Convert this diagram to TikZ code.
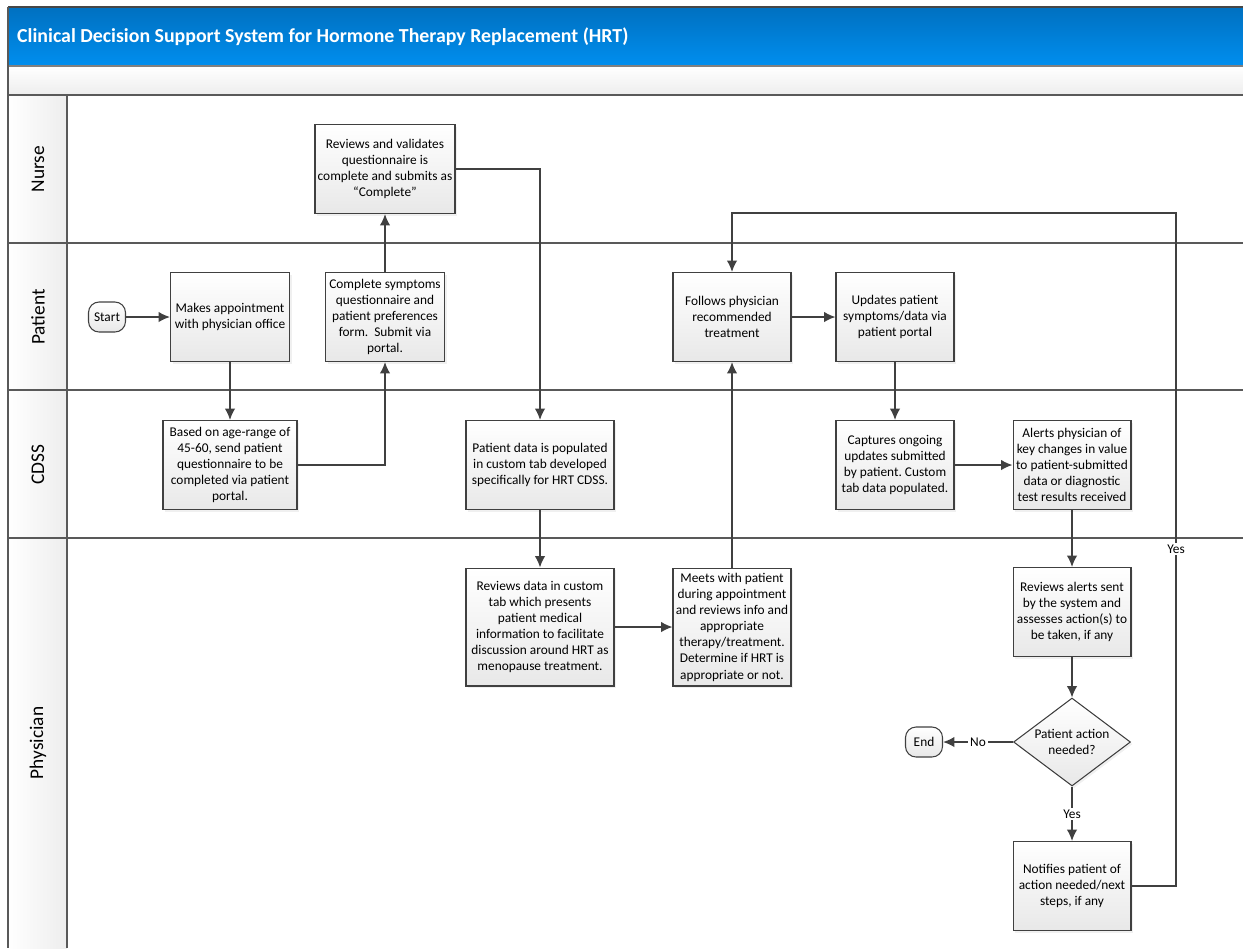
\documentclass[tikz,border=0pt]{standalone}
\usepackage{fontspec}
\setmainfont{Carlito}
\usetikzlibrary{shapes.geometric,shadows,arrows.meta}
\tikzset{>={Latex[length=6.5pt,width=6pt]}}
\frenchspacing

\definecolor{lineGray}{HTML}{404040}
\definecolor{laneGray}{HTML}{595959}
\definecolor{titleTop}{HTML}{0070C0}
\definecolor{titleBot}{HTML}{008EEE}

\tikzset{
    procbox/.style={draw=lineGray, line width=0.6pt, top color=white, bottom color=black!9,
        align=center, inner sep=1pt, minimum height=1.78cm, minimum width=2.36cm,
        font=\fontsize{7.6}{9.2}\selectfont,
        drop shadow={opacity=0.12, shadow xshift=1.2pt, shadow yshift=-1.2pt}},
    termbox/.style={draw=lineGray, line width=0.6pt, rounded corners=6pt, top color=white, bottom color=black!9,
        minimum width=0.74cm, minimum height=0.6cm, inner sep=1pt, font=\fontsize{7.6}{9.2}\selectfont},
    decbox/.style={diamond, draw=lineGray, line width=0.6pt, top color=white, bottom color=black!9,
        minimum width=2.34cm, minimum height=1.76cm, aspect=1.33, inner sep=0pt, align=center,
        font=\fontsize{7.6}{9.2}\selectfont,
        drop shadow={opacity=0.12, shadow xshift=1.2pt, shadow yshift=-1.2pt}},
    flow/.style={->, draw=lineGray, line width=0.9pt},
    lbl/.style={fill=white, inner sep=1pt, font=\fontsize{7.6}{9.2}\selectfont},
    lanename/.style={rotate=90, font=\fontsize{11}{13}\selectfont}
}

\begin{document}
\begin{tikzpicture}[x=0.02cm, y=-0.02cm]
    \useasboundingbox (0,0) rectangle (1243,948);

    % title bar and header band
    \shade[top color=titleTop, bottom color=titleBot] (8,7) rectangle (1243,65);
    \draw[laneGray!80!black, line width=0.8pt] (8,7) -- (1243,7);
    \node[anchor=west, text=white, font=\fontsize{11.3}{13}\selectfont\bfseries] (title) at (11,37)
        {Clinical Decision Support System for Hormone Therapy Replacement (HRT)};
    \shade[top color=white, bottom color=black!7] (8,66) rectangle (1243,95);
    \draw[gray, line width=0.8pt] (8,66) -- (1243,66);

    % lanes
    \shade[left color=white, right color=black!7] (8,95) rectangle (67,948);
    \foreach \y in {95,243,390,538}
        \draw[laneGray, line width=0.8pt] (8,\y) -- (1243,\y);
    \draw[laneGray, line width=0.8pt] (8,7) -- (8,948);
    \draw[laneGray, line width=0.8pt] (67,95) -- (67,948);

    \node[lanename] (laneNurse) at (38,169) {Nurse};
    \node[lanename] (lanePatient) at (38,317) {Patient};
    \node[lanename] (laneCdss) at (38,465) {CDSS};
    \node[lanename] (lanePhys) at (38,743) {Physician};

    % steps
    \node[termbox] (start) at (107,317) {Start};
    \node[procbox, minimum width=2.38cm] (appt) at (230,317)
        {Makes appointment\\with physician office};
    \node[procbox, minimum width=2.68cm] (sendq) at (230,465)
        {Based on age-range of\\45-60, send patient\\questionnaire to be\\completed via patient\\portal.};
    \node[procbox, minimum width=2.38cm] (fillq) at (385,317)
        {Complete symptoms\\questionnaire and\\patient preferences\\form.\ \ Submit via\\portal.};
    \node[procbox, minimum width=2.8cm] (check) at (385,169)
        {Reviews and validates\\questionnaire is\\complete and submits as\\``Complete''};
    \node[procbox, minimum width=2.96cm] (popul) at (540,465)
        {Patient data is populated\\in custom tab developed\\specifically for HRT CDSS.};
    \node[procbox, minimum width=2.96cm, minimum height=2.36cm] (review) at (540,627)
        {Reviews data in custom\\tab which presents\\patient medical\\information to facilitate\\discussion around HRT as\\menopause treatment.};
    \node[procbox, minimum height=2.36cm] (meet) at (732,627)
        {Meets with patient\\during appointment\\and reviews info and\\appropriate\\therapy/treatment.\\Determine if HRT is\\appropriate or not.};
    \node[procbox] (follow) at (732,317)
        {Follows physician\\recommended\\treatment};
    \node[procbox] (update) at (895,317)
        {Updates patient\\symptoms/data via\\patient portal};
    \node[procbox] (capture) at (895,465)
        {Captures ongoing\\updates submitted\\by patient. Custom\\tab data populated.};
    \node[procbox] (alert) at (1072,465)
        {Alerts physician of\\key changes in value\\to patient-submitted\\data or diagnostic\\test results received};
    \node[procbox] (assess) at (1072,612)
        {Reviews alerts sent\\by the system and\\assesses action(s) to\\be taken, if any};
    \node[decbox] (needed) at (1072,742) {Patient action\\needed?};
    \node[termbox] (end) at (924,742) {End};
    \node[procbox] (notify) at (1072,886)
        {Notifies patient of\\action needed/next\\steps, if any};

    \coordinate (loopTop) at (1176,213);

    % connectors
    \draw[flow] (start) -- (appt);
    \draw[flow] (appt) -- (sendq);
    \draw[flow] (sendq.east) -| (fillq.south);
    \draw[flow] (fillq) -- (check);
    \draw[flow] (check.east) -| (popul.north);
    \draw[flow] (popul) -- (review);
    \draw[flow] (review) -- (meet);
    \draw[flow] (meet) -- (follow);
    \draw[flow] (follow) -- (update);
    \draw[flow] (update) -- (capture);
    \draw[flow] (capture) -- (alert);
    \draw[flow] (alert) -- (assess);
    \draw[flow] (assess) -- (needed);
    \draw[flow] (needed.west) -- node[lbl] (noLbl) {No} (end.east);
    \draw[flow] (needed.south) -- node[lbl] (yesLbl) {Yes} (notify.north);
    \draw[flow] (notify.east) -| (loopTop) -| (follow.north);
    \node[lbl] (yesLoop) at (1176,549) {Yes};

\end{tikzpicture}
\end{document}
